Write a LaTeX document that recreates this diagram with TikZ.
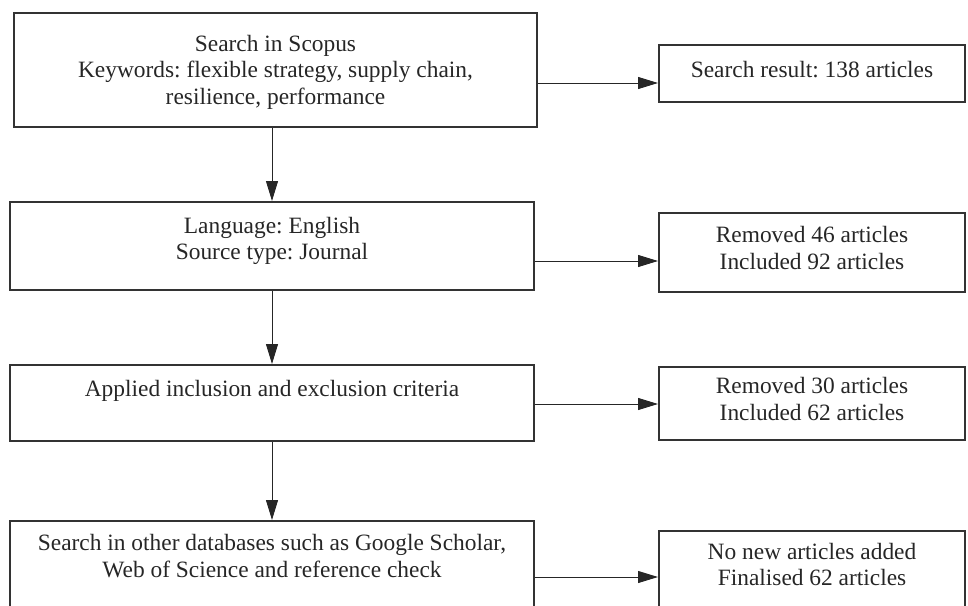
\documentclass[tikz,border=0pt]{standalone}
\usepackage{fontspec}
\setmainfont{Liberation Serif}
\usetikzlibrary{arrows.meta, calc}

\begin{document}
\frenchspacing
\begin{tikzpicture}[x=0.5pt, y=-0.5pt,
    stage/.style={draw=black!80, line width=1pt, rectangle, align=center,
                  text=black!85, inner sep=0pt,
                  font=\fontsize{11.7}{13.2}\selectfont},
    flow/.style={draw=black!85, line width=0.5pt,
                 -{Triangle[length=10pt, width=6pt]}}]

    % Fix the page to the size of the reference (bottom row runs off the page)
    \useasboundingbox (0,0) rectangle (968,605);
    \clip (0,0) rectangle (968,605);

    % Left column: the search steps
    \node[stage, minimum width=261.5pt, minimum height=57pt, text depth=0.5pt] (scopus) at (275.5,70)
        {Search in Scopus\\Keywords: flexible strategy, supply chain,\\resilience, performance};
    \node[stage, minimum width=262pt, minimum height=44pt, text depth=7.5pt] (language) at (272,246)
        {Language: English\\Source type: Journal};
    \node[stage, minimum width=262pt, minimum height=38pt, text depth=15pt] (criteria) at (272,403)
        {Applied inclusion and exclusion criteria};
    \node[stage, minimum width=262pt, minimum height=45pt, text depth=10pt] (other) at (272,566)
        {Search in other databases such as Google Scholar,\\Web of Science and reference check};

    % Right column: the outcome of each step
    \node[stage, minimum width=153pt, minimum height=28.5pt, text depth=4.5pt] (result) at (812,73.5)
        {Search result: 138 articles};
    \node[stage, minimum width=153pt, minimum height=39.5pt, text depth=4.5pt] (removedA) at (812,252.5)
        {Removed 46 articles\\Included 92 articles};
    \node[stage, minimum width=153pt, minimum height=36.5pt, text depth=4.5pt] (removedB) at (812,403.5)
        {Removed 30 articles\\Included 62 articles};
    \node[stage, minimum width=153pt, minimum height=39.5pt, text depth=6pt] (final) at (812,570.5)
        {No new articles added\\Finalised 62 articles};

    % Downward arrows between the steps
    \draw[flow] (scopus.south -| language.north) -- (language.north);
    \draw[flow] (language.south) -- (criteria.north);
    \draw[flow] (criteria.south) -- (other.north);

    % Start points of the arrows out to the results (a little below the box centres)
    \coordinate (outA) at ($(scopus.east)+(0,13)$);
    \coordinate (outB) at ($(language.east)+(0,15)$);
    \coordinate (outC) at ($(criteria.east)+(0,1)$);
    \coordinate (outD) at ($(other.east)+(0,11)$);

    \draw[flow] (outA) -- (outA -| result.west);
    \draw[flow] (outB) -- (outB -| removedA.west);
    \draw[flow] (outC) -- (outC -| removedB.west);
    \draw[flow] (outD) -- (outD -| final.west);

\end{tikzpicture}
\end{document}
